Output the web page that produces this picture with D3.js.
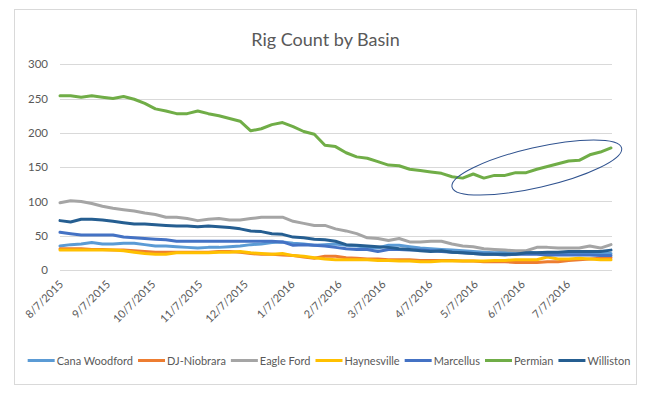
<!DOCTYPE html>
<html>
<head>
<meta charset="utf-8">
<script src="https://cdn.jsdelivr.net/npm/d3@7"></script>
<style>
  body { margin: 0; background: #fff; }
  text { font-family: Lato, "Open Sans", sans-serif; fill: #595959; }
</style>
</head>
<body>
<svg id="chart" width="646" height="396"></svg>
<script>
// weekly rig count dates (Fridays)
var weekDates = [
  "2015-08-07", "2015-08-14", "2015-08-21", "2015-08-28", "2015-09-04", "2015-09-11", "2015-09-18", "2015-09-25",
  "2015-10-02", "2015-10-09", "2015-10-16", "2015-10-23", "2015-10-30", "2015-11-06", "2015-11-13", "2015-11-20",
  "2015-11-27", "2015-12-04", "2015-12-11", "2015-12-18", "2015-12-25", "2016-01-01", "2016-01-08", "2016-01-15",
  "2016-01-22", "2016-01-29", "2016-02-05", "2016-02-12", "2016-02-19", "2016-02-26", "2016-03-04", "2016-03-11",
  "2016-03-18", "2016-03-25", "2016-04-01", "2016-04-08", "2016-04-15", "2016-04-22", "2016-04-29", "2016-05-06",
  "2016-05-13", "2016-05-20", "2016-05-27", "2016-06-03", "2016-06-10", "2016-06-17", "2016-06-24", "2016-07-01",
  "2016-07-08", "2016-07-15", "2016-07-22", "2016-07-29", "2016-08-05"
];

var canaWoodford = [35, 37, 38, 40, 38, 38, 39, 39, 37, 35, 35, 34, 33, 32, 33, 33, 34, 35, 37, 38, 40, 41, 39, 38, 36, 37,
  38, 36, 35, 33, 32, 36, 36, 34, 32, 31, 30, 29, 28, 27, 26, 25, 26, 26, 26, 25, 25, 25, 26, 25, 24, 24, 24];
var djNiobrara = [31, 31, 31, 30, 30, 29, 29, 28, 27, 26, 26, 26, 26, 26, 26, 27, 27, 26, 24, 23, 23, 22, 21, 19, 17, 20,
  20, 18, 17, 16, 16, 15, 15, 15, 14, 14, 14, 14, 13, 13, 12, 12, 12, 11, 11, 11, 12, 12, 14, 15, 16, 17, 18];
var eagleFord = [98, 101, 100, 97, 93, 90, 88, 86, 83, 81, 77, 77, 75, 72, 74, 75, 73, 73, 75, 77, 77, 77, 71, 68, 65, 65,
  60, 57, 53, 47, 46, 43, 46, 41, 41, 42, 42, 38, 35, 34, 31, 30, 29, 28, 28, 33, 33, 32, 32, 32, 35, 32, 37];
var haynesville = [29, 29, 29, 29, 29, 29, 28, 26, 24, 23, 23, 25, 25, 25, 25, 26, 26, 27, 25, 24, 23, 24, 21, 20, 18, 16,
  15, 15, 15, 15, 14, 14, 13, 13, 12, 12, 13, 13, 13, 13, 13, 14, 14, 15, 15, 15, 19, 16, 16, 17, 16, 15, 15];
var marcellus = [55, 53, 51, 51, 51, 51, 48, 47, 46, 45, 44, 42, 42, 42, 42, 42, 42, 42, 42, 42, 42, 41, 36, 37, 36, 35,
  33, 31, 30, 30, 27, 30, 30, 29, 29, 28, 27, 26, 25, 24, 23, 23, 22, 23, 23, 23, 22, 22, 22, 22, 22, 21, 21];
var permian = [254, 254, 252, 254, 252, 250, 253, 249, 243, 235, 232, 228, 228, 232, 228, 225, 221, 217, 203, 206, 212, 215,
  209, 202, 198, 182, 180, 171, 165, 163, 158, 153, 152, 147, 145, 143, 141, 136, 134, 140, 134, 138, 138, 142, 142, 147,
  151, 155, 159, 160, 168, 172, 178];
var williston = [72, 70, 74, 74, 73, 71, 69, 67, 67, 66, 65, 64, 64, 63, 64, 63, 62, 60, 57, 56, 53, 52, 48, 47, 45, 44,
  42, 37, 36, 35, 34, 33, 31, 30, 28, 27, 28, 26, 25, 24, 23, 23, 23, 23, 25, 25, 26, 26, 27, 27, 27, 27, 29];

var basinNames = ["Cana Woodford", "DJ-Niobrara", "Eagle Ford", "Haynesville", "Marcellus", "Permian", "Williston"];
var basinValues = [canaWoodford, djNiobrara, eagleFord, haynesville, marcellus, permian, williston];
var basinColors = ["#5B9BD5", "#ED7D31", "#A5A5A5", "#FFC000", "#4472C4", "#70AD47", "#255E91"];

var xTickLabels = ["8/7/2015", "9/7/2015", "10/7/2015", "11/7/2015", "12/7/2015", "1/7/2016",
  "2/7/2016", "3/7/2016", "4/7/2016", "5/7/2016", "6/7/2016", "7/7/2016"];
var yTicks = [0, 50, 100, 150, 200, 250, 300];

// annotation ellipse around the Permian rebound: major axis ends (date, value)
var ellipseEnds = [["2016-04-22", 121], ["2016-08-12", 178]];

var parseDay = d3.timeParse("%Y-%m-%d");
var parseLabel = d3.timeParse("%m/%d/%Y");

var svg = d3.select("#chart");

var PLOT_LEFT = 60, PLOT_RIGHT = 611, PLOT_TOP = 64.3, PLOT_BOTTOM = 270;

var dates = weekDates.map(parseDay);

var xScale = d3.scaleTime()
  .domain(d3.extent(dates))
  .range([PLOT_LEFT, PLOT_RIGHT]);

var yScale = d3.scaleLinear()
  .domain([0, 300])
  .range([PLOT_BOTTOM, PLOT_TOP]);

// chart frame
svg.append("rect")
  .attr("x", 14.5).attr("y", 9.5)
  .attr("width", 622).attr("height", 375)
  .attr("fill", "#fff")
  .attr("stroke", "#D9D9D9")
  .attr("stroke-width", 1);

// title
svg.append("text")
  .attr("x", 325.5).attr("y", 46)
  .attr("text-anchor", "middle")
  .style("font-size", "18px")
  .text("Rig Count by Basin");

// gridlines + y labels
var yAxis = d3.axisLeft(yScale)
  .tickValues(yTicks)
  .tickSize(-(PLOT_RIGHT + 1 - PLOT_LEFT))
  .tickPadding(12);

var yG = svg.append("g")
  .attr("transform", "translate(" + PLOT_LEFT + ",0)")
  .call(yAxis);
yG.select(".domain").remove();
yG.selectAll(".tick line").attr("stroke", "#D9D9D9").attr("shape-rendering", "crispEdges");
yG.selectAll(".tick text")
  .style("font-size", "11.5px")
  .style("font-family", "Lato, 'Open Sans', sans-serif")
  .attr("fill", "#595959");

// x labels, rotated
var xG = svg.append("g");
xG.selectAll("text")
  .data(xTickLabels)
  .enter()
  .append("text")
  .attr("transform", function (d) {
    return "translate(" + (xScale(parseLabel(d)) + 4) + "," + 285 + ") rotate(-45)";
  })
  .attr("text-anchor", "end")
  .style("font-size", "11px")
  .text(function (d) { return d; });

// series lines
var line = d3.line()
  .x(function (d, i) { return xScale(dates[i]); })
  .y(function (d) { return yScale(d); });

svg.append("g")
  .selectAll("path")
  .data(basinValues)
  .enter()
  .append("path")
  .attr("d", line)
  .attr("fill", "none")
  .attr("stroke", function (d, i) { return basinColors[i]; })
  .attr("stroke-width", 3)
  .attr("stroke-linejoin", "round")
  .attr("stroke-linecap", "round");

// annotation ellipse
var p1 = [xScale(parseDay(ellipseEnds[0][0])), yScale(ellipseEnds[0][1])];
var p2 = [xScale(parseDay(ellipseEnds[1][0])), yScale(ellipseEnds[1][1])];
var angle = Math.atan2(p2[1] - p1[1], p2[0] - p1[0]) * 180 / Math.PI;
var halfLen = Math.hypot(p2[0] - p1[0], p2[1] - p1[1]) / 2;
svg.append("ellipse")
  .attr("transform", "translate(" + ((p1[0] + p2[0]) / 2) + "," + ((p1[1] + p2[1]) / 2) + ") rotate(" + angle + ")")
  .attr("rx", halfLen)
  .attr("ry", 20)
  .attr("fill", "none")
  .attr("stroke", "#2F528F")
  .attr("stroke-width", 1);

// legend
var legend = svg.append("g");
var LINE_LEN = 27;
var items = legend.selectAll("g")
  .data(basinNames)
  .enter()
  .append("g");

items.append("line")
  .attr("x1", 0).attr("x2", LINE_LEN)
  .attr("y1", 0).attr("y2", 0)
  .attr("stroke", function (d, i) { return basinColors[i]; })
  .attr("stroke-width", 3);

items.append("text")
  .attr("x", LINE_LEN + 2)
  .attr("y", 4)
  .style("font-size", "11px")
  .text(function (d) { return d; });

var widths = [];
items.each(function () {
  widths.push(LINE_LEN + 2 + d3.select(this).select("text").node().getComputedTextLength());
});
var GAP = 5;
var total = d3.sum(widths) + GAP * (widths.length - 1);
var cursor = 329 - total / 2;
items.attr("transform", function (d, i) {
  var x = cursor;
  cursor += widths[i] + GAP;
  return "translate(" + x + ",360.5)";
});
</script>
</body>
</html>
